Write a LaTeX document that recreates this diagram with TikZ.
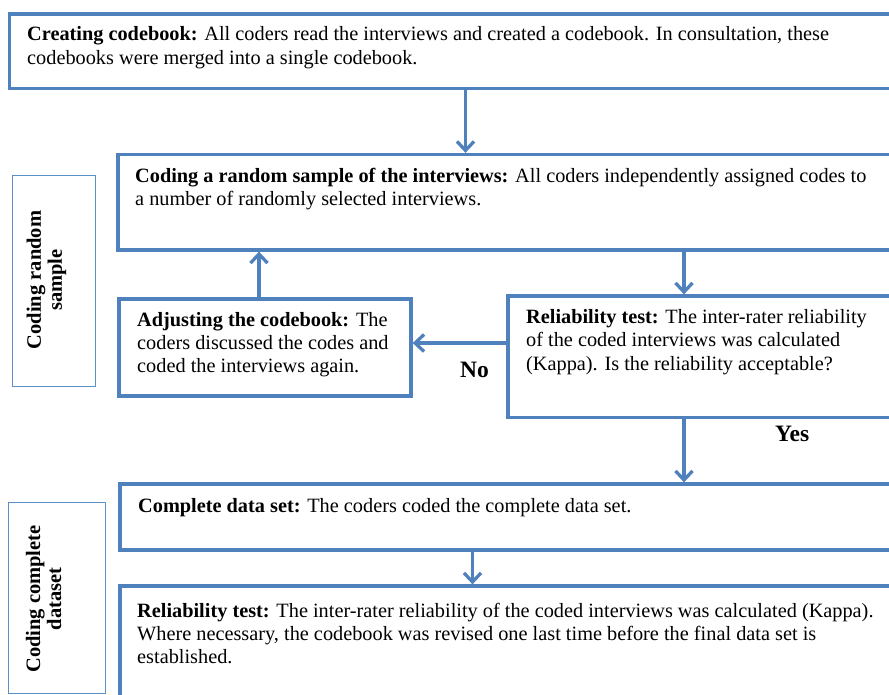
\documentclass[tikz,border=0pt]{standalone}
\usepackage{fontspec}
\setmainfont{Liberation Serif}
\usetikzlibrary{arrows.meta}
\definecolor{flowblue}{RGB}{79,129,189}
\definecolor{sideblue}{RGB}{92,142,200}

\begin{document}
\begin{tikzpicture}[x=1pt,y=-1pt,
  stage/.style={draw=flowblue, line width=3.3pt, rectangle, inner sep=0pt},
  phase/.style={draw=sideblue, line width=1pt, rectangle, inner sep=0pt},
  boxtext/.style={anchor=north west, inner sep=0pt, align=left,
    font=\fontsize{20.3}{23.3}\selectfont},
  phaselabel/.style={rotate=90, align=center, inner sep=0pt,
    font=\fontsize{20.5}{21}\selectfont\bfseries},
  answer/.style={anchor=base west, inner sep=0pt,
    font=\fontsize{23.5}{26}\selectfont\bfseries},
  arr/.style={draw=flowblue, line width=3.3pt,
    -{Straight Barb[length=9pt,width=17pt]}}]

\useasboundingbox (0,0) rectangle (889,694);
\clip (0,0) rectangle (889,694);

% process boxes (they run past the right edge of the page)
\node[stage, minimum width=940.5pt, minimum height=74.5pt] (b1) at (479.75,51.25) {};
\node[stage, minimum width=832pt, minimum height=95.5pt] (b2) at (534,202.25) {};
\node[stage, minimum width=292pt, minimum height=97pt] (b3) at (265,347.5) {};
\node[stage, minimum width=442pt, minimum height=121.5pt] (b4) at (729,356.75) {};
\node[stage, minimum width=830pt, minimum height=66pt] (b5) at (535,517) {};
\node[stage, minimum width=830pt, minimum height=200pt] (b6) at (535,686) {};

% phase boxes on the left
\node[phase, minimum width=83pt, minimum height=211pt] (p1) at (54.2,280.5) {};
\node[phase, minimum width=97pt, minimum height=191pt] (p2) at (56.5,597.5) {};

\node[phaselabel] (p1l) at (46.5,280) {Coding random\\sample};
\node[phaselabel] (p2l) at (43.5,599) {Coding complete\\dataset};

% box texts
\node[boxtext] (t1) at (27,24.2) {\strut\textbf{Creating codebook:} All coders read the interviews and created a codebook. In consultation, these\\codebooks were merged into a single codebook.};
\node[boxtext] (t2) at (135,165.7) {\strut\textbf{Coding a random sample of the interviews:} All coders independently assigned codes to\\a number of randomly selected interviews.};
\node[boxtext] (t3) at (137,309.7) {\strut\textbf{Adjusting the codebook:} The\\coders discussed the codes and\\coded the interviews again.};
\node[boxtext] (t4) at (526,307) {\strut\textbf{Reliability test:} The inter-rater reliability\\of the coded interviews was calculated\\(Kappa). Is the reliability acceptable?};
\node[boxtext] (t5) at (138,495.7) {\strut\textbf{Complete data set:} The coders coded the complete data set.};
\node[boxtext] (t6) at (137,600.7) {\strut\textbf{Reliability test:} The inter-rater reliability of the coded interviews was calculated (Kappa).\\Where necessary, the codebook was revised one last time before the final data set is\\established.};

% decision labels
\node[answer] (no) at (460,377) {No};
\node[answer] (yes) at (775,441) {Yes};

% connector guides
\coordinate (ca) at (465.5,0);
\coordinate (cb) at (684,0);
\coordinate (cc) at (259,0);
\coordinate (cd) at (0,343);
\coordinate (ce) at (472.5,0);

% connectors
\draw[arr] (b1.south -| ca) -- (b2.north -| ca);
\draw[arr] (b2.south -| cb) -- (b4.north -| cb);
\draw[arr] (b3.north -| cc) -- (b2.south -| cc);
\draw[arr] (b4.west |- cd) -- (b3.east |- cd);
\draw[arr] (b4.south -| cb) -- (b5.north -| cb);
\draw[arr] (b5.south -| ce) -- (b6.north -| ce);
\end{tikzpicture}
\end{document}
